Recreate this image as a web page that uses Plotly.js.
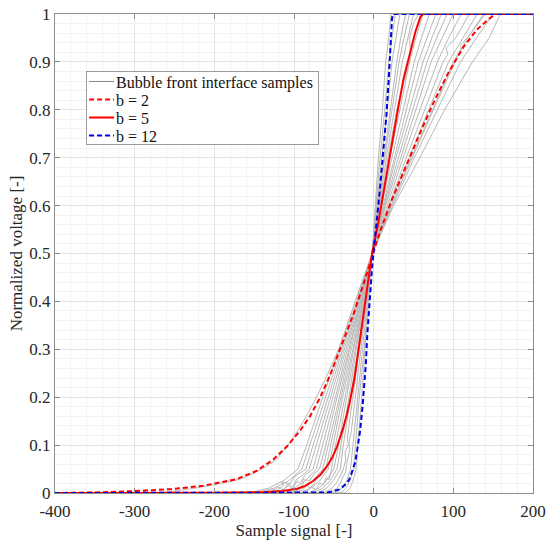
<!DOCTYPE html>
<html>
<head>
<meta charset="utf-8">
<script src="https://cdn.plot.ly/plotly-3.0.1.min.js"></script>
<style>html,body{margin:0;padding:0;background:#fff;}#chart{width:550px;height:542px;}</style>
</head>
<body>
<div id="chart"></div>
<script>
// ---- Data ----
const xTickVals = [-400, -300, -200, -100, 0, 100, 200];
const xTickText = ['-400', '-300', '-200', '-100', '0', '100', '200'];
const yTickVals = [0, 0.1, 0.2, 0.3, 0.4, 0.5, 0.6, 0.7, 0.8, 0.9, 1];
const yTickText = ['0', '0.1', '0.2', '0.3', '0.4', '0.5', '0.6', '0.7', '0.8', '0.9', '1'];

// model curves
const b2X = [-400, -350, -300, -255, -214, -172, -147, -126, -109, -92, -80, -67, -55, -42, -25, -13, -2, 8, 23, 42, 59, 76, 93, 113, 130, 145, 153, 200];
const b2Y = [0, 0.001, 0.004, 0.008, 0.015, 0.029, 0.046, 0.07, 0.097, 0.131, 0.16, 0.2, 0.245, 0.3, 0.375, 0.435, 0.494, 0.546, 0.613, 0.69, 0.755, 0.818, 0.875, 0.932, 0.968, 0.99, 1, 1];
const b5X = [-400, -200, -134, -115, -96, -86, -76, -67, -59, -52, -46, -42, -38, -34, -30, -24, -19, -13, -6, -2, 6, 12.6, 18.8, 25, 31.4, 37.7, 46, 52.4, 58.7, 62, 200];
const b5Y = [0, 0.0003, 0.002, 0.004, 0.009, 0.015, 0.025, 0.038, 0.055, 0.074, 0.097, 0.115, 0.137, 0.162, 0.19, 0.24, 0.298, 0.375, 0.455, 0.5, 0.566, 0.629, 0.692, 0.754, 0.81, 0.866, 0.921, 0.963, 0.994, 1, 1];
const b12X = [-400, -70, -58, -50, -42, -36, -31, -27, -23, -20, -17, -14, -12, -10, -8, -6, -4, -2, 0, 4, 8, 12, 16, 19, 21, 23, 24, 200];
const b12Y = [0, 0, 0.001, 0.004, 0.008, 0.017, 0.027, 0.045, 0.065, 0.097, 0.13, 0.18, 0.22, 0.265, 0.33, 0.38, 0.43, 0.47, 0.505, 0.566, 0.636, 0.713, 0.789, 0.866, 0.935, 0.99, 1, 1];

// bubble front interface samples
const stdY = [0, 0, 0.01, 0.025, 0.05, 0.1, 0.2, 0.3, 0.4, 0.5, 0.6, 0.7, 0.8, 0.9, 0.95, 1, 1];
const sampleX = [
  [-400,-270,-232,-200,-165,-140,-122,-105,-88,-75,-60,-44,-23,-2,22,48,75,102,110,109,120,140,200],
  [-400,-157,-132,-114,-95,-84,-64,-43,-23,-2,24,51,80,109,129,150,200],
  [-400,-148,-125,-107,-90,-80,-60,-41,-21,-2,25,58,89,124,145,159,200],
  [-400,-140,-128,-122,-113,-116,-105,-100,-85,-76,-57,-39,-20,-2,17,37,58,80,94,110,200],
  [-400,-133,-119,-113,-108,-101,-97,-90,-81,-72,-54,-37,-19,-2,22,47,74,100,118,138,200],
  [-400,-126,-114,-107,-102,-96,-92,-86,-76,-68,-51,-35,-18,-2,20,44,69,94,112,130,200],
  [-400,-119,-100,-86,-72,-64,-48,-33,-17,-2,19,41,64,87,93,91,103,120,200],
  [-400,-112,-100,-95,-88,-90,-80,-75,-68,-60,-46,-31,-16,-2,15,34,53,72,86,100,200],
  [-400,-105,-89,-76,-64,-57,-43,-30,-16,-2,14,31,49,67,79,92,200],
  [-400,-100,-90,-83,-80,-73,-74,-66,-60,-54,-41,-28,-15,-2,13,28,45,62,73,85,200],
  [-400,-94,-79,-68,-57,-51,-39,-26,-14,-2,12,26,41,56,67,78,200],
  [-400,-87,-78,-72,-68,-63,-60,-56,-53,-48,-36,-25,-13,-2,10,23,37,51,60,70,200],
  [-400,-82,-69,-60,-50,-44,-34,-23,-13,-2,9,20,33,45,53,62,200],
  [-400,-76,-64,-55,-46,-41,-31,-22,-12,-2,8,18,29,38,45,46,45,50,56,200],
  [-400,-70,-59,-51,-42,-38,-29,-20,-11,-2,7,16,26,36,43,50,200],
  [-400,-62,-52,-45,-38,-35,-36,-32,-33,-26,-18,-10,-2,6,14,23,32,38,45,200],
  [-400,-55,-46,-42,-40,-35,-34,-30,-31,-28,-23,-16,-9,-2,5,13,21,29,34,40,200],
  [-400,-47,-40,-34,-29,-26,-20,-14,-8,-2,4,10,17,23,28,33,200],
  [-400,-41,-35,-30,-25,-23,-18,-12,-7,-2,3,8,14,19,23,27,200],
  [-400,-36,-30,-26,-22,-20,-15,-11,-6,-2,2,6,11,15,19,22,200]
];
const sampleY = [
  [0,0,0.008,0.017,0.03,0.05,0.07,0.105,0.15,0.19,0.24,0.3,0.4,0.5,0.6,0.7,0.8,0.9,0.925,0.935,0.955,1,1],
  stdY,
  stdY,
  [0,0,0.009,0.004,0.016,0.023,0.019,0.033,0.05,0.1,0.2,0.3,0.4,0.5,0.6,0.7,0.8,0.9,0.95,1,1],
  [0,0,0.012,0.006,0.019,0.013,0.028,0.036,0.05,0.1,0.2,0.3,0.4,0.5,0.6,0.7,0.8,0.9,0.95,1,1],
  [0,0,0.007,0.015,0.009,0.025,0.02,0.038,0.05,0.1,0.2,0.3,0.4,0.5,0.6,0.7,0.8,0.9,0.95,1,1],
  [0,0,0.01,0.025,0.05,0.1,0.2,0.3,0.4,0.5,0.6,0.7,0.8,0.9,0.915,0.93,0.95,1,1],
  [0,0,0.01,0.005,0.02,0.028,0.026,0.04,0.05,0.1,0.2,0.3,0.4,0.5,0.6,0.7,0.8,0.9,0.95,1,1],
  stdY,
  [0,0,0.006,0.016,0.01,0.024,0.032,0.037,0.05,0.1,0.2,0.3,0.4,0.5,0.6,0.7,0.8,0.9,0.95,1,1],
  stdY,
  [0,0,0.012,0.007,0.021,0.017,0.031,0.028,0.05,0.1,0.2,0.3,0.4,0.5,0.6,0.7,0.8,0.9,0.95,1,1],
  stdY,
  [0,0,0.01,0.025,0.05,0.1,0.2,0.3,0.4,0.5,0.6,0.7,0.8,0.86,0.9,0.93,0.95,0.98,1,1],
  stdY,
  [0,0,0.01,0.025,0.05,0.07,0.085,0.1,0.115,0.2,0.3,0.4,0.5,0.6,0.7,0.8,0.9,0.95,1,1],
  [0,0,0.01,0.02,0.028,0.045,0.06,0.09,0.105,0.13,0.2,0.3,0.4,0.5,0.6,0.7,0.8,0.9,0.95,1,1],
  stdY,
  stdY,
  stdY
];

const seriesNames = ['Bubble front interface samples', 'b = 2', 'b = 5', 'b = 12'];

// ---- Traces ----
const traces = [];
sampleX.forEach((xs, i) => {
  traces.push({
    x: xs, y: sampleY[i], type: 'scatter', mode: 'lines',
    line: {color: '#b8b8b8', width: 1},
    name: seriesNames[0], legendgroup: 'samples', showlegend: i === 0,
    hoverinfo: 'skip'
  });
});
traces.push({x: b2X, y: b2Y, type: 'scatter', mode: 'lines', name: seriesNames[1],
  line: {color: '#ff0000', width: 2, dash: '5px,3px'}});
traces.push({x: b5X, y: b5Y, type: 'scatter', mode: 'lines', name: seriesNames[2],
  line: {color: '#ff0000', width: 2}});
traces.push({x: b12X, y: b12Y, type: 'scatter', mode: 'lines', name: seriesNames[3],
  line: {color: '#0000e6', width: 2, dash: '5px,3px'}});

const font = "'Liberation Serif', 'DejaVu Serif', serif";
const axisCommon = {
  showline: true, linecolor: '#8c8c8c', linewidth: 1, mirror: 'ticks',
  ticks: 'inside', ticklen: 5, tickcolor: '#8c8c8c',
  showgrid: true, gridcolor: '#e4e4e4', gridwidth: 1,
  zeroline: false, tickmode: 'array',
  tickfont: {family: font, size: 17, color: '#262626'}
};

const layout = {
  width: 550, height: 542,
  margin: {l: 55, r: 17, t: 14, b: 49},
  paper_bgcolor: '#ffffff', plot_bgcolor: '#ffffff',
  font: {family: font, color: '#262626'},
  showlegend: true,
  legend: {
    x: 0.065, y: 0.88, xanchor: 'left', yanchor: 'top',
    bgcolor: '#ffffff', bordercolor: '#9a9a9a', borderwidth: 1,
    font: {family: font, size: 16, color: '#111'},
    itemwidth: 30, tracegroupgap: 0
  },
  xaxis: Object.assign({}, axisCommon, {
    range: [-400, 200], tickvals: xTickVals, ticktext: xTickText,
    ticklabelstandoff: 3,
    minor: {tickmode: 'linear', tick0: 0, dtick: 20, showgrid: true, gridcolor: '#f2f2f2', ticks: ''},
    title: {text: 'Sample signal [-]', font: {family: font, size: 17, color: '#262626'}, standoff: 0}
  }),
  yaxis: Object.assign({}, axisCommon, {
    range: [0, 1], tickvals: yTickVals, ticktext: yTickText,
    minor: {tickmode: 'linear', tick0: 0, dtick: 0.02, showgrid: true, gridcolor: '#f2f2f2', ticks: ''},
    title: {text: 'Normalized voltage [-]', font: {family: font, size: 17, color: '#262626'}, standoff: 2}
  })
};

Plotly.newPlot('chart', traces, layout, {displayModeBar: false, staticPlot: true}).then(() => {
  // tighten legend rows (18 px per row) and symbol/text spacing like the reference
  try {
    const leg = document.querySelector('#chart .legend');
    const items = leg.querySelectorAll('g.traces');
    const pad = 10, step = 18, textX = 29;
    let delta = 0;
    items.forEach((g, i) => {
      const t = g.getAttribute('transform') || '';
      const m = t.match(/translate\(\s*([-\d.]+)[ ,]+([-\d.]+)\s*\)/);
      const x = m ? parseFloat(m[1]) : 0;
      g.setAttribute('transform', 'translate(' + x + ',' + (pad + i * step) + ')');
      const txt = g.querySelector('text.legendtext');
      if (txt) {
        const ox = parseFloat(txt.getAttribute('x') || '40');
        delta = ox - textX;
        txt.setAttribute('x', textX);
      }
      g.querySelectorAll('.legendlines path').forEach(p => {
        p.setAttribute('d', 'M2,0h25');
        if (i === 0) p.style.stroke = '#8a8a8a';
      });
    });
    const bg = leg.querySelector('rect.bg');
    if (bg) {
      const bw = 1;
      bg.setAttribute('height', 2 * pad + (items.length - 1) * step - bw);
      const w = parseFloat(bg.getAttribute('width'));
      if (!isNaN(w)) bg.setAttribute('width', w - delta);
    }
  } catch (e) {}
});
</script>
</body>
</html>
